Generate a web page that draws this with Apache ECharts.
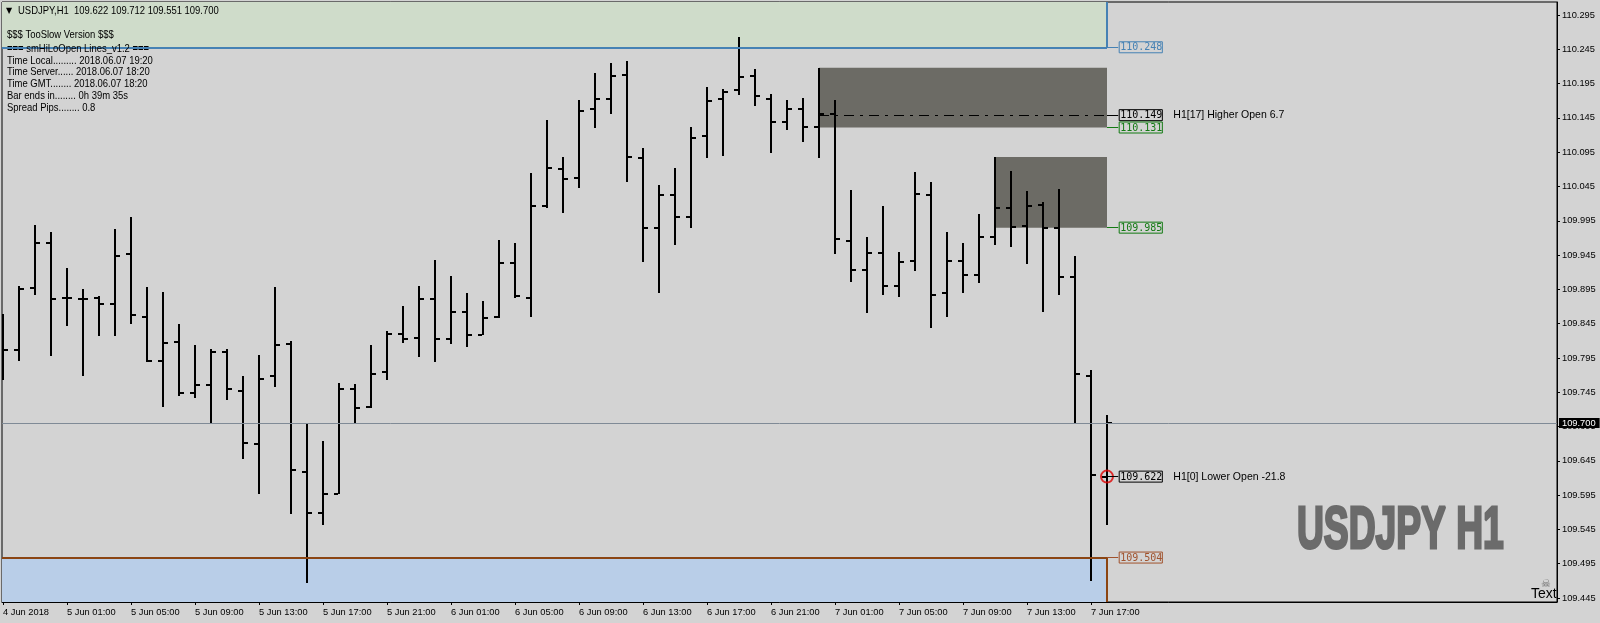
<!DOCTYPE html>
<html>
<head>
<meta charset="utf-8">
<title>USDJPY H1</title>
<script src="https://cdn.jsdelivr.net/npm/echarts@6/dist/echarts.min.js"></script>
<style>
  html, body { margin: 0; padding: 0; background: #d3d3d3; }
  #chart { width: 1600px; height: 623px; }
</style>
</head>
<body>
<div id="chart"></div>
<script>
// USDJPY H1 bars, 4 Jun 21:00 .. 7 Jun 18:00
const opens = [
  109.840, 109.807, 109.897, 109.962, 109.883, 109.881, 109.883, 109.873, 109.946, 109.855,
  109.791, 109.818, 109.744, 109.755, 109.803, 109.747, 109.670, 109.769, 109.816, 109.629,
  109.569, 109.597, 109.750, 109.724, 109.775, 109.830, 109.824, 109.881, 109.822, 109.862,
  109.828, 109.855, 109.934, 109.883, 110.017, 110.071, 110.058, 110.158, 110.172, 110.208,
  110.087, 109.985, 110.033, 110.001, 110.118, 110.172, 110.185, 110.206, 110.173, 110.139,
  110.158, 110.132, 110.150, 109.965, 109.923, 109.948, 109.900, 109.936, 110.032, 109.889,
  109.937, 109.916, 109.972, 110.013, 109.988, 110.018, 109.985, 109.913, 109.769, 109.622
];
const highs = [
  109.859, 109.900, 109.989, 109.979, 109.926, 109.895, 109.886, 109.983, 110.001, 109.898,
  109.891, 109.845, 109.814, 109.808, 109.808, 109.769, 109.799, 109.898, 109.820, 109.700,
  109.674, 109.758, 109.757, 109.814, 109.834, 109.871, 109.900, 109.938, 109.915, 109.890,
  109.878, 109.967, 109.962, 110.065, 110.142, 110.088, 110.171, 110.210, 110.225, 110.228,
  110.101, 110.047, 110.072, 110.132, 110.190, 110.187, 110.263, 110.216, 110.180, 110.171,
  110.174, 110.218, 110.171, 110.040, 109.971, 110.017, 109.949, 110.066, 110.052, 109.979,
  109.963, 110.005, 110.088, 110.068, 110.038, 110.022, 110.041, 109.944, 109.777, 109.712
];
const lows = [
  109.763, 109.790, 109.887, 109.798, 109.842, 109.768, 109.827, 109.827, 109.844, 109.789,
  109.724, 109.740, 109.736, 109.700, 109.733, 109.647, 109.596, 109.753, 109.567, 109.467,
  109.552, 109.597, 109.698, 109.722, 109.763, 109.817, 109.797, 109.789, 109.816, 109.811,
  109.828, 109.853, 109.883, 109.855, 110.013, 110.007, 110.043, 110.131, 110.151, 110.052,
  109.935, 109.889, 109.959, 109.985, 110.087, 110.090, 110.179, 110.163, 110.094, 110.127,
  110.110, 110.087, 109.946, 109.906, 109.861, 109.887, 109.884, 109.922, 109.839, 109.855,
  109.890, 109.905, 109.959, 109.957, 109.932, 109.862, 109.887, 109.699, 109.470, 109.551
];
const closes = [
  109.807, 109.896, 109.962, 109.881, 109.883, 109.881, 109.873, 109.943, 109.857, 109.790,
  109.817, 109.744, 109.755, 109.803, 109.750, 109.671, 109.764, 109.814, 109.632, 109.569,
  109.597, 109.750, 109.722, 109.772, 109.830, 109.823, 109.881, 109.822, 109.862, 109.828,
  109.854, 109.934, 109.885, 110.016, 110.072, 110.056, 110.155, 110.172, 110.206, 110.088,
  109.985, 110.032, 110.001, 110.116, 110.170, 110.183, 110.205, 110.177, 110.139, 110.158,
  110.132, 110.150, 109.968, 109.923, 109.948, 109.900, 109.935, 110.034, 109.887, 109.937,
  109.916, 109.972, 110.013, 109.986, 110.017, 109.985, 109.913, 109.772, 109.625, 109.700
];

const xTickBars = [0, 4, 8, 12, 16, 20, 24, 28, 32, 36, 40, 44, 48, 52, 56, 60, 64, 68];
const xTickLabels = [
  '4 Jun 2018', '5 Jun 01:00', '5 Jun 05:00', '5 Jun 09:00', '5 Jun 13:00', '5 Jun 17:00',
  '5 Jun 21:00', '6 Jun 01:00', '6 Jun 05:00', '6 Jun 09:00', '6 Jun 13:00', '6 Jun 17:00',
  '6 Jun 21:00', '7 Jun 01:00', '7 Jun 05:00', '7 Jun 09:00', '7 Jun 13:00', '7 Jun 17:00'
];
const yTicks = [
  109.445, 109.495, 109.545, 109.595, 109.645, 109.695, 109.745, 109.795, 109.845,
  109.895, 109.945, 109.995, 110.045, 110.095, 110.145, 110.195, 110.245, 110.295
];

// smHiLoOpen levels
const hiLine = 110.248;
const loLine = 109.504;
const open17 = 110.149;
const box1Low = 110.131;
const box2Low = 109.985;
const box1Start = 51;
const box2Start = 62;
const note17 = 'H1[17] Higher Open 6.7';
const note0 = 'H1[0] Lower Open -21.8';

const infoLines = [
  '$$$ TooSlow Version $$$',
  '=== smHiLoOpen Lines_v1.2 ===',
  'Time Local......... 2018.06.07 19:20',
  'Time Server...... 2018.06.07 18:20',
  'Time GMT........ 2018.06.07 18:20',
  'Bar ends in........ 0h 39m 35s',
  'Spread Pips........ 0.8'
];
const infoY = [35, 48.5, 60.7, 71.8, 83.5, 96, 108.3];

const X_MIN = -0.0625, X_MAX = 97.125;
const Y_MIN = 109.4392, Y_MAX = 110.314;
const last = opens.length - 1;

const SANS = "'Liberation Sans', Arial, sans-serif";
const MONO = "'DejaVu Sans Mono', monospace";

const bars = opens.map((o, i) => [i, o, highs[i], lows[i], closes[i]]);

function tag(price, color, note) {
  return {
    show: true,
    position: 'end',
    distance: 1,
    formatter: note ? `{b|${price.toFixed(3)}}{t|${note}}` : `{b|${price.toFixed(3)}}`,
    rich: {
      b: {color, borderColor: color, borderWidth: 1, padding: [1, 0, 0, 1], fontFamily: MONO, fontSize: 10},
      t: {color: '#000', padding: [0, 0, 0, 11], fontFamily: SANS, fontSize: 10.5}
    }
  };
}

function seg(x1, y1, x2, y2, color, width, label, type) {
  return [
    {coord: [x1, y1], lineStyle: {color, width, type: type || 'solid'}, label: label || {show: false}},
    {coord: [x2, y2]}
  ];
}

const chart = echarts.init(document.getElementById('chart'));

const infoTexts = infoLines.map((t, k) => ({
  type: 'text', x: 7, y: infoY[k], z: 100, scaleX: 0.86,
  style: {text: t, fill: '#000', fontSize: 11, fontFamily: SANS, verticalAlign: 'middle'}
}));

chart.setOption({
  animation: false,
  backgroundColor: '#d3d3d3',
  textStyle: {fontFamily: SANS},
  grid: {left: 2, right: 43, top: 2, bottom: 21, show: true, borderColor: '#000', borderWidth: 1},
  xAxis: {
    type: 'value', min: X_MIN, max: X_MAX,
    axisLine: {show: true, onZero: false, lineStyle: {color: '#000'}},
    axisTick: {show: true, length: 3, customValues: xTickBars, lineStyle: {color: '#000'}},
    axisLabel: {
      customValues: xTickBars, align: 'left', margin: 6, color: '#000', fontSize: 9.3, fontFamily: SANS,
      formatter: v => xTickLabels[xTickBars.indexOf(Math.round(v))] || ''
    },
    splitLine: {show: false}
  },
  yAxis: {
    type: 'value', position: 'right', min: Y_MIN, max: Y_MAX,
    axisLine: {show: true, onZero: false, lineStyle: {color: '#000'}},
    axisTick: {show: true, length: 3, customValues: yTicks, lineStyle: {color: '#000'}},
    axisLabel: {customValues: yTicks, margin: 5, color: '#000', fontSize: 9.3, fontFamily: SANS,
      formatter: v => v.toFixed(3)},
    splitLine: {show: false}
  },
  graphic: [
    {type: 'text', x: 6, y: 11, z: 100, style: {text: '▼', fill: '#000', fontSize: 8, fontFamily: "'DejaVu Sans'", verticalAlign: 'middle'}},
    {type: 'text', x: 18, y: 11, z: 100, scaleX: 0.86, style: {
      text: `USDJPY,H1  ${opens[last].toFixed(3)} ${highs[last].toFixed(3)} ${lows[last].toFixed(3)} ${closes[last].toFixed(3)}`,
      fill: '#000', fontSize: 11, fontFamily: SANS, verticalAlign: 'middle'}},
    ...infoTexts,
    {type: 'text', x: 1297, y: 531, scaleX: 0.62, z: 100, style: {
      text: 'USDJPY H1', fill: '#6b6b6b', stroke: '#6b6b6b', lineWidth: 3,
      font: "bold 60px 'Liberation Sans'", verticalAlign: 'middle'}},
    {type: 'text', x: 1546, y: 584, z: 100, style: {text: '☠', fill: '#6e6e6e', fontSize: 11, fontFamily: "'DejaVu Sans'", align: 'center', verticalAlign: 'middle'}},
    {type: 'text', x: 1531, y: 594, z: 100, style: {text: 'Text', fill: '#000', fontSize: 14, fontFamily: "'Liberation Sans'", verticalAlign: 'middle'}}
  ],
  series: [
    {
      name: 'zones',
      type: 'line',
      data: [],
      z: 1,
      markArea: {
        silent: true,
        label: {show: false},
        data: [
          [{coord: [X_MIN, hiLine], itemStyle: {color: '#cfdcca'}}, {coord: [last, Y_MAX]}],
          [{coord: [X_MIN, Y_MIN], itemStyle: {color: '#b9cee8'}}, {coord: [last, loLine]}],
          [{coord: [box1Start, highs[box1Start]], itemStyle: {color: '#6c6b65'}}, {coord: [last, box1Low]}],
          [{coord: [box2Start, highs[box2Start]], itemStyle: {color: '#6c6b65'}}, {coord: [last, box2Low]}]
        ]
      },
      markLine: {
        silent: true,
        symbol: ['none', 'none'],
        label: {show: false},
        data: [
          seg(X_MIN, closes[last], X_MAX, closes[last], '#7f8a96', 1, {
            show: true, position: 'end', distance: 2, formatter: closes[last].toFixed(3),
            backgroundColor: '#000', color: '#fff', padding: [1, 4, 0, 3], fontSize: 9.3, fontFamily: SANS
          }),
          seg(X_MIN, hiLine, last, hiLine, '#4682b4', 2),
          seg(last, hiLine, last, Y_MAX, '#4682b4', 2),
          seg(X_MIN, loLine, last, loLine, '#8b4513', 2),
          seg(last, Y_MIN, last, loLine, '#8b4513', 2),
          seg(box1Start, open17, last, open17, '#000', 1, null, [10, 6, 3, 6]),
          seg(last, hiLine, last + 0.7, hiLine, '#4682b4', 1, tag(hiLine, '#4682b4')),
          seg(last, open17, last + 0.7, open17, '#000', 1, tag(open17, '#000', note17)),
          seg(last, box1Low, last + 0.7, box1Low, '#137a13', 1, tag(box1Low, '#137a13')),
          seg(last, box2Low, last + 0.7, box2Low, '#137a13', 1, tag(box2Low, '#137a13')),
          seg(last, opens[last], last + 0.7, opens[last], '#000', 1, tag(opens[last], '#000', note0)),
          seg(last, loLine, last + 0.7, loLine, '#a0522d', 1, tag(loLine, '#a0522d'))
        ]
      }
    },
    {
      name: 'USDJPY',
      type: 'custom',
      z: 3,
      clip: true,
      encode: {x: 0, y: [1, 2, 3, 4]},
      data: bars,
      renderItem: (params, api) => {
        const i = api.value(0);
        const o = api.coord([i, api.value(1)]);
        const h = api.coord([i, api.value(2)]);
        const l = api.coord([i, api.value(3)]);
        const c = api.coord([i, api.value(4)]);
        const x = Math.round(o[0]);
        const st = {fill: '#000'};
        return {
          type: 'group',
          children: [
            {type: 'rect', shape: {x: x - 1, y: Math.round(h[1]), width: 2, height: Math.round(l[1]) - Math.round(h[1])}, style: st},
            {type: 'rect', shape: {x: x - 5, y: Math.round(o[1]) - 1, width: 4, height: 2}, style: st},
            {type: 'rect', shape: {x: x + 1, y: Math.round(c[1]) - 1, width: 4, height: 2}, style: st}
          ]
        };
      }
    },
    {
      name: 'open',
      type: 'scatter',
      z: 4,
      symbol: 'circle',
      symbolSize: 12,
      data: [[last, opens[last]]],
      itemStyle: {color: 'rgba(0,0,0,0)', borderColor: '#e00000', borderWidth: 2}
    }
  ]
});
</script>
</body>
</html>
